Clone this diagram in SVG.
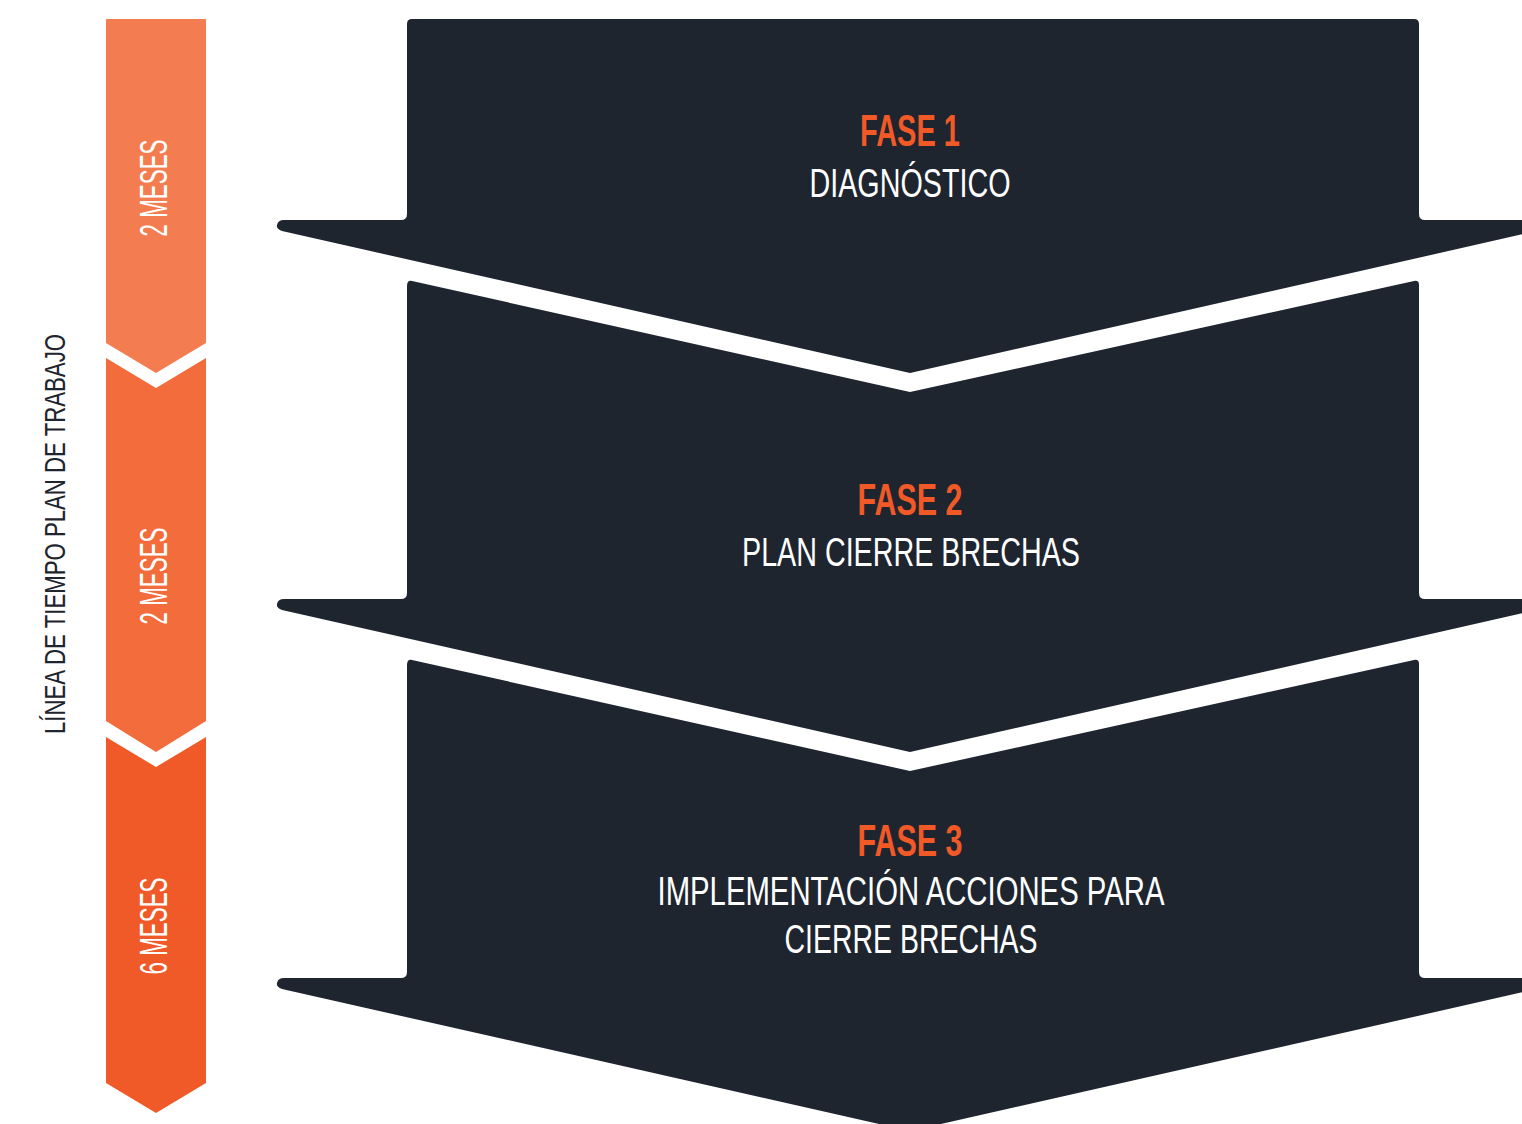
<svg xmlns="http://www.w3.org/2000/svg" width="1522" height="1124" viewBox="0 0 1522 1124">
  <style>
    .arrow { fill: #1E252F; }
    .phase { font-family: "Liberation Sans", Arial, sans-serif; font-weight: bold; font-size: 45px; fill: #F15A27; text-anchor: middle; }
    .desc { font-family: "Liberation Sans", Arial, sans-serif; font-size: 41px; fill: #FFFFFF; text-anchor: middle; }
    .dur { font-family: "Liberation Sans", Arial, sans-serif; font-size: 38px; fill: #FFFFFF; text-anchor: middle; }
    .title { font-family: "Liberation Sans", Arial, sans-serif; font-size: 29px; fill: #1E252F; text-anchor: middle; }
  </style>
  <rect width="1522" height="1124" fill="#FFFFFF"/>

  <g id="timeline-title">
    <text class="title" transform="translate(65,534) rotate(-90)" textLength="400" lengthAdjust="spacingAndGlyphs">LÍNEA DE TIEMPO PLAN DE TRABAJO</text>
  </g>

  <g id="segment-1">
    <polygon points="106,19 206,19 206,343 156,373 106,343" fill="#F37D51"/>
    <text class="dur" transform="translate(167,188) rotate(-90)" textLength="97" lengthAdjust="spacingAndGlyphs">2 MESES</text>
  </g>
  <g id="segment-2">
    <polygon points="106,358 156,388 206,358 206,721 156,752 106,721" fill="#F26C3C"/>
    <text class="dur" transform="translate(167,576) rotate(-90)" textLength="97" lengthAdjust="spacingAndGlyphs">2 MESES</text>
  </g>
  <g id="segment-3">
    <polygon points="106,737 156,767 206,737 206,1083 156,1113 106,1083" fill="#F05A28"/>
    <text class="dur" transform="translate(167,926) rotate(-90)" textLength="97" lengthAdjust="spacingAndGlyphs">6 MESES</text>
  </g>

  <g id="phase-1">
    <path class="arrow" d="M 412 19 H 1414 Q 1419 19 1419 24 V 214 Q 1419 220 1425 220 H 1550 V 228 L 910 373 L 282 231 Q 276 229 277 225 Q 278 220 284 220 H 401 Q 407 220 407 214 V 24 Q 407 19 412 19 Z"/>
    <text class="phase" x="910" y="146" textLength="100" lengthAdjust="spacingAndGlyphs">FASE 1</text>
    <text class="desc" x="910" y="197" textLength="201" lengthAdjust="spacingAndGlyphs">DIAGNÓSTICO</text>
  </g>

  <g id="phase-2">
    <path class="arrow" d="M 412 281 L 910 392 L 1414 281 Q 1419 280 1419 285 V 593 Q 1419 599 1425 599 H 1550 V 607 L 910 752 L 282 610 Q 276 608 277 604 Q 278 599 284 599 H 401 Q 407 599 407 593 V 286 Q 407 280 412 281 Z"/>
    <text class="phase" x="910" y="515" textLength="105" lengthAdjust="spacingAndGlyphs">FASE 2</text>
    <text class="desc" x="911" y="566" textLength="338" lengthAdjust="spacingAndGlyphs">PLAN CIERRE BRECHAS</text>
  </g>

  <g id="phase-3">
    <path class="arrow" d="M 412 660 L 910 771 L 1414 660 Q 1419 659 1419 664 V 972 Q 1419 978 1425 978 H 1550 V 986 L 910 1131 L 282 989 Q 276 987 277 983 Q 278 978 284 978 H 401 Q 407 978 407 972 V 665 Q 407 659 412 660 Z"/>
    <text class="phase" x="910" y="856" textLength="105" lengthAdjust="spacingAndGlyphs">FASE 3</text>
    <text class="desc" x="911" y="905" textLength="507" lengthAdjust="spacingAndGlyphs">IMPLEMENTACIÓN ACCIONES PARA</text>
    <text class="desc" x="911" y="953" textLength="253" lengthAdjust="spacingAndGlyphs">CIERRE BRECHAS</text>
  </g>

  <g id="connectors"/>
</svg>
